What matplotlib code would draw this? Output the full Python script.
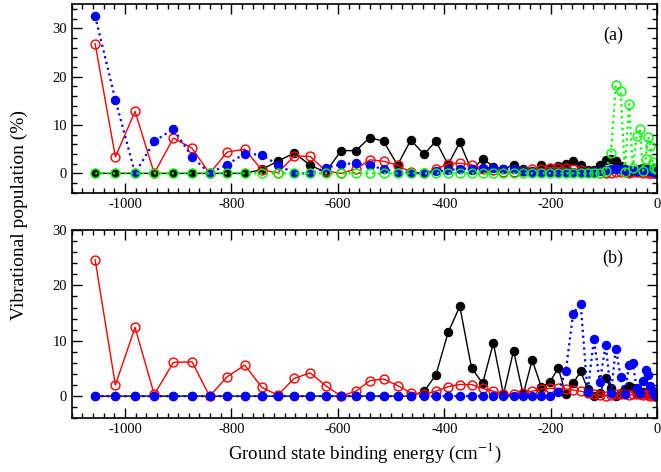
import numpy as np
import matplotlib
matplotlib.use("Agg")
import matplotlib.pyplot as plt
from matplotlib.ticker import MultipleLocator

plt.rcParams['font.family'] = ['Liberation Serif', 'DejaVu Serif']
plt.rcParams['mathtext.fontset'] = 'stix'
plt.rcParams['axes.unicode_minus'] = False

# vibrational level binding energies (cm^-1), shared by all series
energy = [-1056, -1018, -981, -945, -909, -874, -841, -808, -775, -743,
          -713, -682, -652, -623, -594, -566, -540, -514, -488, -463,
          -438, -416, -393, -371, -349, -328, -308, -289, -270, -252,
          -235, -218, -202, -186, -172, -158, -144, -131, -119, -108,
          -97, -87, -78, -69, -61, -53, -46, -39, -33, -27,
          -22, -17, -13, -9, -6, -3, -1]

# panel (a) populations (%)
black_a = [0, 0, 0, 0, 0, 0, 0, 0, 0, 0.8,
           2.5, 4.2, 1.7, 0.2, 4.7, 4.7, 7.4, 6.6, 1.7, 6.9,
           3.9, 6.7, 1.8, 6.4, 0.6, 3.0, 1.4, 0.8, 1.8, 1.0,
           0.5, 1.8, 1.2, 1.6, 2.0, 2.6, 1.7, 0.6, 0.6, 1.7,
           2.8, 3.0, 2.5, 1.6, 0.8, 0.3, 0.5, 0.3, 0.8, 1.2,
           0.6, 1.0, 0.5, 0.8, 0.4, 0.2, 0.1]
red_a = [26.8, 3.4, 12.8, 0, 7.3, 5.2, 0, 4.4, 5.0, 0.7,
         0.1, 3.6, 3.5, 0.5, 0, 0.9, 2.8, 2.5, 1.7, 0.2,
         0, 0.8, 2.0, 2.1, 1.8, 1.0, 0.6, 0.3, 0.2, 0.4,
         0.8, 1.0, 1.2, 1.2, 1.1, 0.9, 0.6, 0.3, 0.2, 0.1,
         0.0, 0.1, 0.2, 0.3, 0.2, 0.1, 0.2, 0.3, 0.2, 0.1,
         0.2, 0.1, 0.1, 0.1, 0, 0, 0]
blue_a = [32.5, 15.2, 0, 6.6, 9.2, 3.4, 0, 1.8, 4.1, 3.8,
          1.8, 0, 0, 1.1, 1.9, 2.1, 1.7, 0.8, 0.3, 0.1,
          0, 0.4, 0.6, 1.0, 1.0, 1.1, 1.1, 0.8, 0.8, 0.5,
          0.3, 0.2, 0.2, 0.2, 0.2, 0.2, 0.2, 0.2, 0.3, 0.5,
          0.6, 0.8, 0.8, 0.8, 0.7, 0.6, 0.6, 0.5, 0.5, 0.6,
          0.6, 0.6, 0.5, 0.4, 0.3, 0.2, 0.1]
green_a = [0, 0, 0, 0, 0, 0, 0, 0, 0, 0,
           0, 0, 0, 0, 0, 0, 0, 0, 0, 0,
           0, 0, 0, 0, 0, 0, 0, 0, 0, 0,
           0, 0, 0, 0, 0, 0, 0, 0, 0, 0,
           0.5, 4.3, 18.2, 17.0, 0.2, 14.3, 1.1, 7.7, 9.2, 0.5,
           3.0, 7.6, 5.6, 2.3, 1.2, 1.0, 0.8]

# panel (b) populations (%)
black_b = [0, 0, 0, 0, 0, 0, 0, 0, 0, 0,
           0, 0, 0, 0, 0, 0, 0, 0, 0, 0,
           0.9, 3.8, 11.5, 16.2, 5.1, 2.3, 9.6, 0.3, 8.2, 0.3,
           6.5, 1.7, 2.5, 5.1, 0.3, 2.3, 4.5, 1.3, 0.1, 0.5,
           3.2, 1.4, 0.0, 0.5, 1.2, 1.9, 1.4, 0.6, 0.3, 0.8,
           0.5, 0.3, 0.6, 0.3, 0.2, 0.1, 0]
red_b = [24.6, 2.0, 12.4, 0.3, 6.1, 6.2, 0, 3.5, 5.6, 1.6,
         0.2, 3.2, 4.2, 1.9, 0, 0.9, 2.8, 3.1, 1.9, 0.6,
         0.3, 0.9, 1.7, 2.1, 2.1, 1.4, 0.9, 0.3, 0.3, 0.6,
         0.9, 1.3, 1.4, 1.4, 1.3, 1.1, 0.9, 0.6, 0.3, 0.2,
         0.1, 0.2, 0.3, 0.4, 0.3, 0.2, 0.3, 0.4, 0.3, 0.2,
         0.3, 0.2, 0.1, 0.2, 0.1, 0, 0]
blue_b = [0, 0, 0, 0, 0, 0, 0, 0, 0, 0,
          0, 0, 0, 0, 0, 0, 0, 0, 0, 0,
          0, 0, 0, 0, 0, 0, 0, 0, 0, 0,
          0, 0, 0, 0.7, 4.5, 14.9, 16.7, 0.7, 10.3, 2.5,
          9.3, 0.5, 8.6, 3.5, 0.3, 5.7, 5.9, 1.5, 0.5, 2.7,
          4.7, 3.8, 1.9, 0.9, 0.3, 0.1, 0]

fig = plt.figure(figsize=(6.61, 4.72), dpi=100)
ax_a = fig.add_axes([0.1085, 0.5917, 0.8859, 0.3998])
ax_b = fig.add_axes([0.1085, 0.1138, 0.8859, 0.3989])

ms = 5.8


def filled(ax, y, color, ls):
    ax.plot(energy, y, color=color, linestyle=ls, lw=1.0 if ls == '-' else 1.6,
            marker='o', ms=ms, mfc=color, mec=color)


def hollow(ax, y, color, ls):
    ax.plot(energy, y, color=color, linestyle=ls, lw=1.0 if ls == '-' else 1.6,
            marker='o', ms=ms + 0.6, mfc='none', mec=color, mew=1.0)


# panel (a)
filled(ax_a, black_a, 'black', '-')
hollow(ax_a, red_a, '#ff0000', '-')
filled(ax_a, blue_a, '#0000ff', ':')
hollow(ax_a, green_a, '#00ff00', ':')
ax_a.set_ylim(-4, 35)
ax_a.text(0.924, 0.836, '(a)', transform=ax_a.transAxes, fontsize=13,
          ha='center', va='center')

# panel (b)
filled(ax_b, black_b, 'black', '-')
hollow(ax_b, red_b, '#ff0000', '-')
filled(ax_b, blue_b, '#0000ff', ':')
ax_b.set_ylim(-4, 30)
ax_b.text(0.924, 0.85, '(b)', transform=ax_b.transAxes, fontsize=13,
          ha='center', va='center')

for ax in (ax_a, ax_b):
    ax.set_xlim(-1100, 0)
    ax.set_xticks([-1000, -800, -600, -400, -200, 0])
    ax.set_yticks([0, 10, 20, 30])
    ax.xaxis.set_minor_locator(MultipleLocator(20))
    ax.yaxis.set_minor_locator(MultipleLocator(2))
    ax.tick_params(which='both', direction='in', top=True, right=True,
                   labelsize=10.5, width=1.0)
    ax.tick_params(which='major', length=7)
    ax.tick_params(which='minor', length=3.5)
    for sp in ax.spines.values():
        sp.set_linewidth(1.2)

fig.text(0.552, 0.04, 'Ground state binding energy (cm$^{-1}$)',
         ha='center', va='center', fontsize=13.6)
fig.text(0.03, 0.544, 'Vibrational population (%)', rotation=90,
         ha='center', va='center', fontsize=14)

fig.savefig('out.png', dpi=100)
